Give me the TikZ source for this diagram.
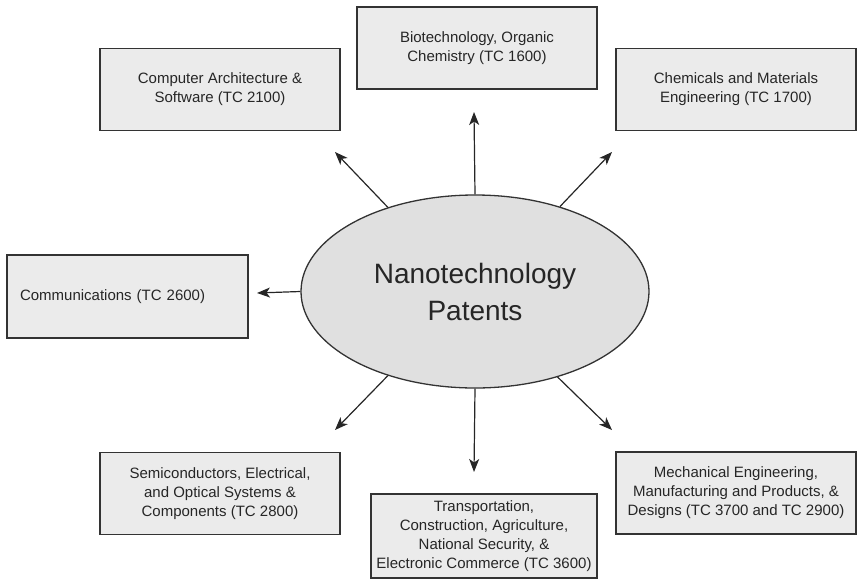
\documentclass[tikz,border=0pt]{standalone}
\usepackage{fontspec}
\setmainfont{Liberation Sans}
\usetikzlibrary{arrows.meta,shapes.geometric}

\begin{document}
\begin{tikzpicture}[x=1pt,y=-1pt,
  tc/.style={draw=black!80,fill=black!8,line width=1.3pt,minimum width=240pt,
    minimum height=82pt,inner xsep=2pt,align=center,text=black!85,
    font=\fontsize{15}{19}\selectfont},
  arr/.style={-{Stealth[length=13pt,width=10pt,inset=3.5pt]},line width=1.2pt,black!85}]
\useasboundingbox (0,0) rectangle (857,579);
\node[ellipse,draw=black!80,fill=black!12,line width=1.3pt,minimum width=348pt,
  minimum height=193pt,align=center,text=black!85,
  font=\fontsize{28}{37}\selectfont] (nano) at (475,291.5) {Nanotechnology\\Patents};
\node[tc] (comp) at (220,89.5) {Computer Architecture \&\\Software (TC 2100)};
\node[tc] (bio) at (477,48) {Biotechnology, Organic\\Chemistry (TC 1600)};
\node[tc] (chem) at (736,89.5) {Chemicals and Materials\\Engineering (TC 1700)};
\node[tc,text width=215pt,inner xsep=13pt,align=left,minimum height=83pt]
  (comm) at (127.5,296.5) {Communications (TC 2600)};
\node[tc] (semi) at (220,493.5)
  {Semiconductors, Electrical,\\and Optical Systems \&\\Components (TC 2800)};
\node[tc,minimum width=226pt,minimum height=84pt] (trans) at (484,536)
  {Transportation,\\Construction, Agriculture,\\National Security, \&\\Electronic Commerce (TC 3600)};
\node[tc] (mech) at (736,493)
  {Mechanical Engineering,\\Manufacturing and Products, \&\\Designs (TC 3700 and TC 2900)};
% free arrow ends
\coordinate (tcomp) at (335,152);
\coordinate (tbio) at (474,112);
\coordinate (tchem) at (612,152);
\coordinate (tcomm) at (257,293);
\coordinate (tsemi) at (335,430);
\coordinate (ttrans) at (474,472);
\coordinate (tmech) at (612,430);
\draw[arr] (nano.136) -- (tcomp);
\draw[arr] (nano.north) -- (tbio);
\draw[arr] (nano.45) -- (tchem);
\draw[arr] (nano.west) -- (tcomm);
\draw[arr] (nano.224) -- (tsemi);
\draw[arr] (nano.south) -- (ttrans);
\draw[arr] (nano.314) -- (tmech);
\end{tikzpicture}
\end{document}
